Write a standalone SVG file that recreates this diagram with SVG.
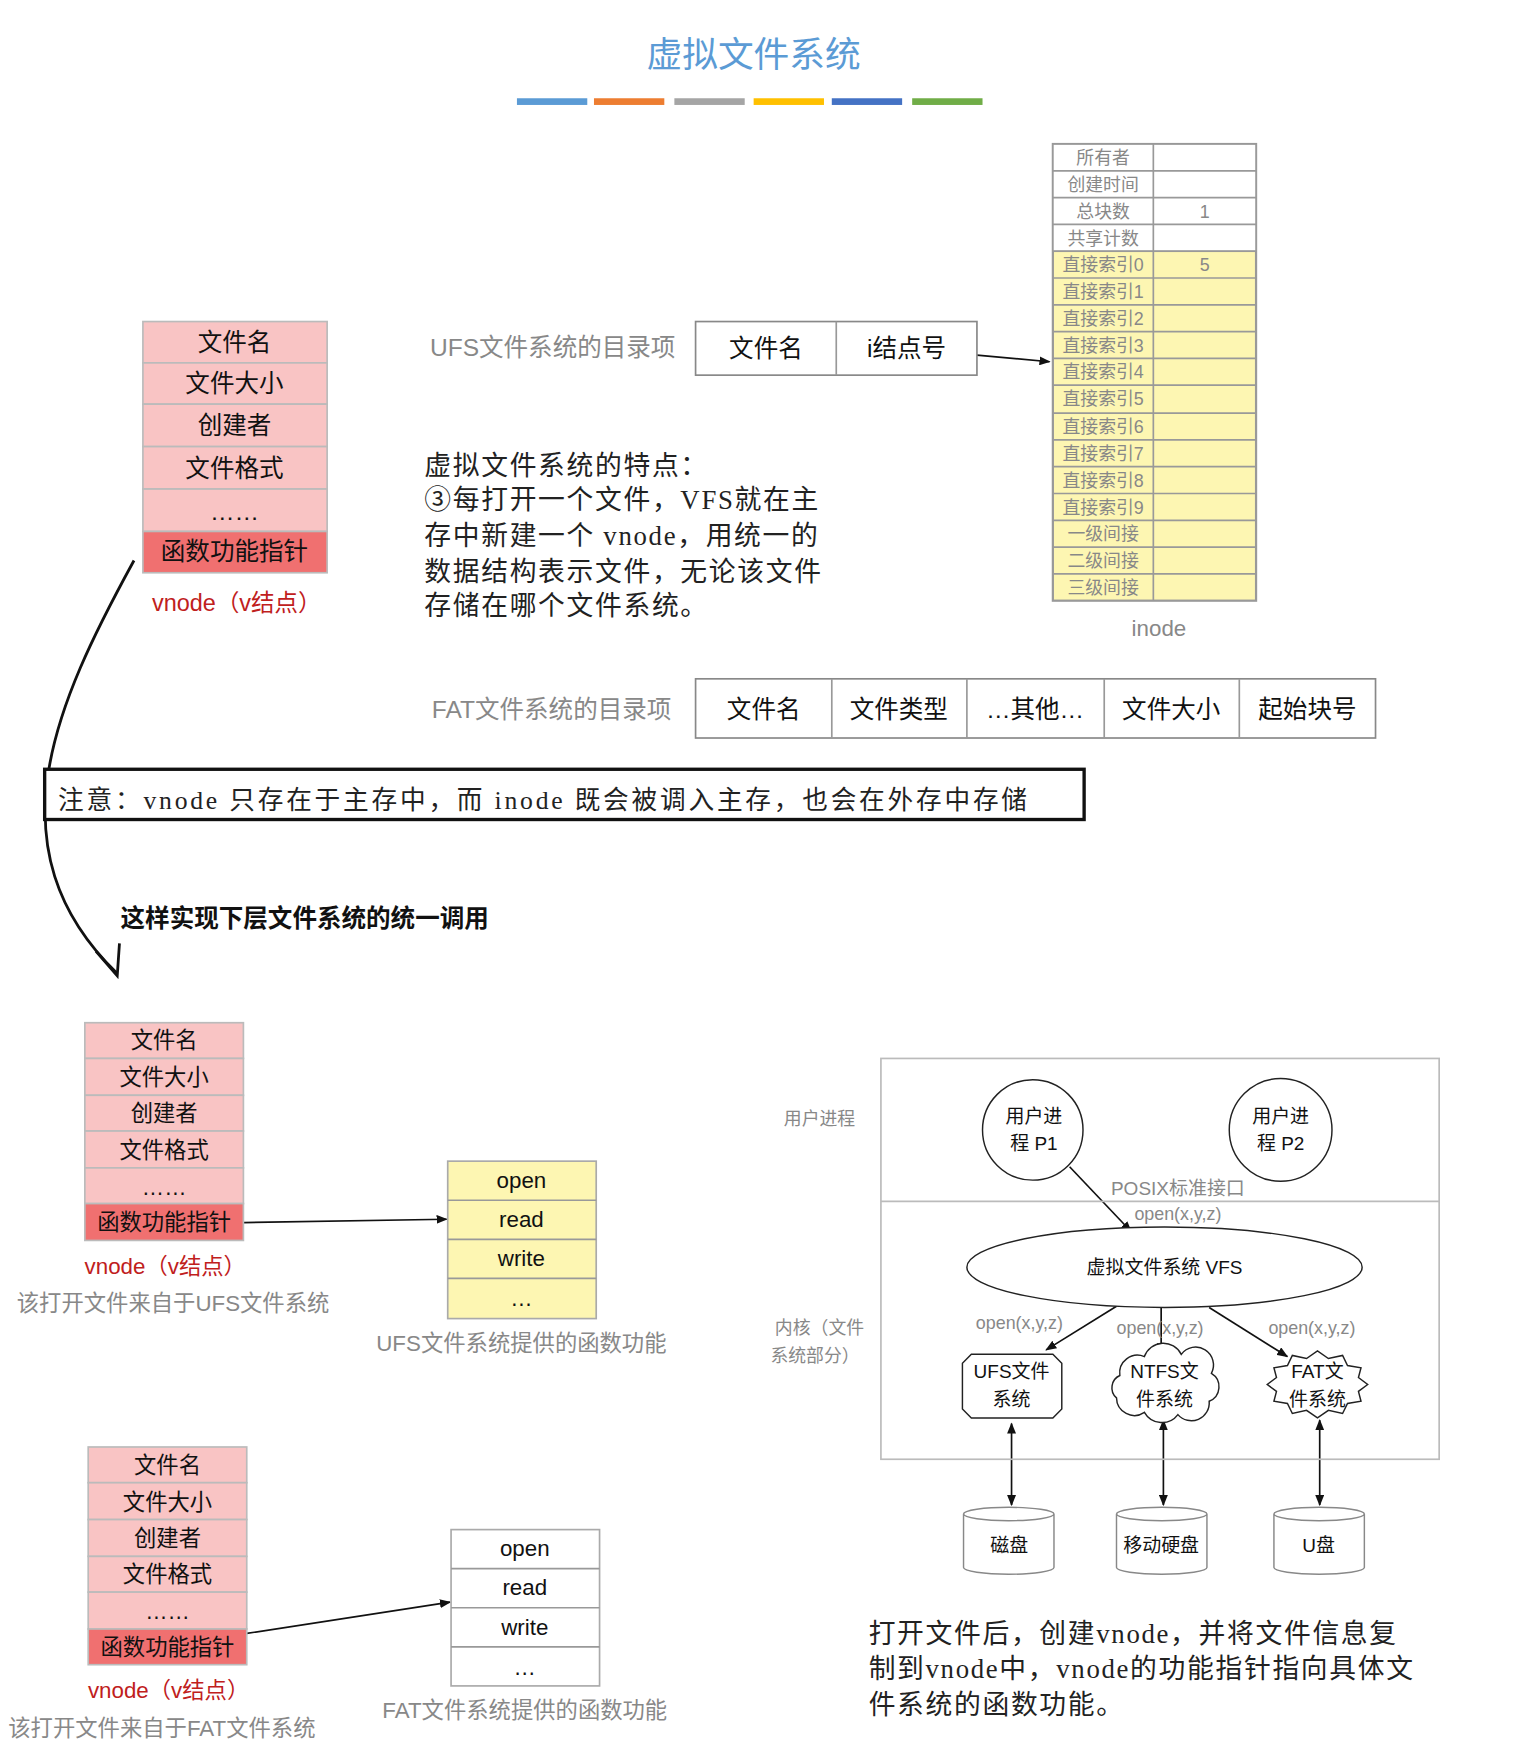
<svg xmlns="http://www.w3.org/2000/svg" width="1524" height="1745" viewBox="0 0 1524 1745">
<defs>
<style>
text{font-family:"Liberation Sans","Noto Sans CJK SC",sans-serif;}
.ser{font-family:"Liberation Serif","Noto Sans CJK SC",serif;font-size:24px;fill:#222;letter-spacing:1.5px;}
.cell{fill:#f9c4c4;stroke:#bbb;stroke-width:1.5;}
.cellr{fill:#f07070;stroke:#bbb;stroke-width:1.5;}
.ct{font-size:22px;fill:#111;text-anchor:middle;}
.ct2{font-size:20px;fill:#111;text-anchor:middle;}
.red{fill:#c0201c;text-anchor:middle;font-size:21px;}
.gray{fill:#888;font-size:20px;text-anchor:middle;}
.ib{stroke:#999;stroke-width:1.5;}
.it{font-size:16px;fill:#888;text-anchor:middle;}
.box{fill:#fff;stroke:#888;stroke-width:1.5;}
.line{stroke:#111;stroke-width:1.5;fill:none;}
.sm{font-size:17px;fill:#111;text-anchor:middle;}
.op{font-size:16px;fill:#888;text-anchor:middle;}
</style>
<marker id="ah" markerWidth="10" markerHeight="8" refX="9" refY="4" orient="auto" markerUnits="userSpaceOnUse"><path d="M0,0 L10,4 L0,8 Z" fill="#111"/></marker>
<marker id="as" markerWidth="10" markerHeight="8" refX="1" refY="4" orient="auto" markerUnits="userSpaceOnUse"><path d="M10,0 L0,4 L10,8 Z" fill="#111"/></marker>
</defs>
<rect width="1524" height="1745" fill="#fff"/>
<g transform="scale(1.1165)">
<g id="title">
<text x="675" y="60" font-size="32" fill="#5b9bd5" text-anchor="middle">虚拟文件系统</text>
<rect x="463" y="88" width="63" height="6" fill="#5b9bd5"/>
<rect x="532" y="88" width="63" height="6" fill="#ed7d31"/>
<rect x="604" y="88" width="63" height="6" fill="#a5a5a5"/>
<rect x="675" y="88" width="63" height="6" fill="#ffc000"/>
<rect x="745" y="88" width="63" height="6" fill="#4472c4"/>
<rect x="817" y="88" width="63" height="6" fill="#70ad47"/>
</g>
<g id="connectors">
<line class="line" x1="875" y1="318" x2="940" y2="324" marker-end="url(#ah)"/>
<path d="M120,502 C50,630 -10,760 105,872" stroke="#111" stroke-width="2.5" fill="none"/>
<path d="M86,852 L105,874 L107,845" stroke="#111" stroke-width="2.5" fill="none"/>
<line class="line" x1="218" y1="1095" x2="400" y2="1092" marker-end="url(#ah)"/>
<line class="line" x1="221" y1="1463" x2="403" y2="1435" marker-end="url(#ah)"/>
<line class="line" x1="958" y1="1045" x2="1013" y2="1103" marker-end="url(#ah)"/>
<line class="line" x1="1000" y1="1170" x2="937" y2="1209" marker-end="url(#ah)"/>
<line class="line" x1="1040" y1="1171" x2="1040" y2="1212" marker-end="url(#ah)"/>
<line class="line" x1="1083" y1="1171" x2="1153" y2="1215" marker-end="url(#ah)"/>
<line class="line" x1="906" y1="1275" x2="906" y2="1348" marker-start="url(#as)" marker-end="url(#ah)"/>
<line class="line" x1="1042" y1="1272" x2="1042" y2="1348" marker-start="url(#as)" marker-end="url(#ah)"/>
<line class="line" x1="1182" y1="1272" x2="1182" y2="1348" marker-start="url(#as)" marker-end="url(#ah)"/>
</g>
<g id="vnode1">
<rect class="cell" x="128" y="288" width="165" height="37"/><text class="ct" x="210" y="314">文件名</text>
<rect class="cell" x="128" y="325" width="165" height="37"/><text class="ct" x="210" y="351">文件大小</text>
<rect class="cell" x="128" y="362" width="165" height="38"/><text class="ct" x="210" y="389">创建者</text>
<rect class="cell" x="128" y="400" width="165" height="38"/><text class="ct" x="210" y="427">文件格式</text>
<rect class="cell" x="128" y="438" width="165" height="38"/><text class="ct" x="210" y="466">……</text>
<rect class="cellr" x="128" y="476" width="165" height="37"/><text class="ct" x="210" y="502">函数功能指针</text>
<text class="red" x="212" y="547">vnode（v结点）</text>
</g>
<g id="ufsdir">
<text class="gray" x="495" y="319" style="font-size:22px">UFS文件系统的目录项</text>
<rect class="box" x="623" y="288" width="252" height="48"/>
<line class="ib" x1="749" y1="288" x2="749" y2="336"/>
<text class="ct" x="686" y="320">文件名</text><text class="ct" x="812" y="320">i结点号</text>
</g>
<g id="inode">
<rect x="943" y="129" width="182" height="409" fill="#fdf6b2" stroke="#999" stroke-width="2"/>
<rect x="943" y="129" width="182" height="96" fill="#fff" stroke="#999" stroke-width="1.5"/>
<line class="ib" x1="1033" y1="129" x2="1033" y2="538"/>
<g class="ib">
<line x1="943" y1="153" x2="1125" y2="153"/><line x1="943" y1="177" x2="1125" y2="177"/><line x1="943" y1="201" x2="1125" y2="201"/>
<line x1="943" y1="225" x2="1125" y2="225"/><line x1="943" y1="249" x2="1125" y2="249"/><line x1="943" y1="273" x2="1125" y2="273"/>
<line x1="943" y1="297" x2="1125" y2="297"/><line x1="943" y1="321" x2="1125" y2="321"/><line x1="943" y1="345" x2="1125" y2="345"/>
<line x1="943" y1="370" x2="1125" y2="370"/><line x1="943" y1="394" x2="1125" y2="394"/><line x1="943" y1="418" x2="1125" y2="418"/>
<line x1="943" y1="442" x2="1125" y2="442"/><line x1="943" y1="466" x2="1125" y2="466"/><line x1="943" y1="490" x2="1125" y2="490"/>
<line x1="943" y1="514" x2="1125" y2="514"/>
</g>
<text class="it" x="988" y="147">所有者</text><text class="it" x="988" y="171">创建时间</text><text class="it" x="988" y="195">总块数</text><text class="it" x="1079" y="195">1</text>
<text class="it" x="988" y="219">共享计数</text><text class="it" x="988" y="243">直接索引0</text><text class="it" x="1079" y="243">5</text>
<text class="it" x="988" y="267">直接索引1</text><text class="it" x="988" y="291">直接索引2</text><text class="it" x="988" y="315">直接索引3</text>
<text class="it" x="988" y="339">直接索引4</text><text class="it" x="988" y="363">直接索引5</text><text class="it" x="988" y="388">直接索引6</text>
<text class="it" x="988" y="412">直接索引7</text><text class="it" x="988" y="436">直接索引8</text><text class="it" x="988" y="460">直接索引9</text>
<text class="it" x="988" y="484">一级间接</text><text class="it" x="988" y="508">二级间接</text><text class="it" x="988" y="532">三级间接</text>
<text class="gray" x="1038" y="570">inode</text>
</g>
<g id="features">
<text class="ser" x="380" y="425">虚拟文件系统的特点：</text>
<text class="ser" x="380" y="456">③每打开一个文件，VFS就在主</text>
<text class="ser" x="380" y="488">存中新建一个 vnode，用统一的</text>
<text class="ser" x="380" y="520">数据结构表示文件，无论该文件</text>
<text class="ser" x="380" y="551">存储在哪个文件系统。</text>
</g>
<g id="fatdir">
<text class="gray" x="494" y="643" style="font-size:22px">FAT文件系统的目录项</text>
<rect class="box" x="623" y="608" width="609" height="53"/>
<line class="ib" x1="745" y1="608" x2="745" y2="661"/><line class="ib" x1="866" y1="608" x2="866" y2="661"/>
<line class="ib" x1="989" y1="608" x2="989" y2="661"/><line class="ib" x1="1110" y1="608" x2="1110" y2="661"/>
<text class="ct" x="684" y="643">文件名</text><text class="ct" x="805" y="643">文件类型</text><text class="ct" x="927" y="643">…其他…</text>
<text class="ct" x="1049" y="643">文件大小</text><text class="ct" x="1171" y="643">起始块号</text>
</g>
<g id="note">
<rect x="40" y="689" width="931" height="45" fill="#fff" stroke="#111" stroke-width="3"/>
<text class="ser" x="52" y="725" style="font-size:23px;letter-spacing:2.5px">注意：vnode 只存在于主存中，而 inode 既会被调入主存，也会在外存中存储</text>
</g>
<text x="108" y="830" font-size="22" font-weight="bold" fill="#111">这样实现下层文件系统的统一调用</text>
<g id="vnode2">
<rect class="cell" x="76" y="916" width="142" height="32"/><text class="ct2" x="147" y="939">文件名</text>
<rect class="cell" x="76" y="948" width="142" height="33"/><text class="ct2" x="147" y="972">文件大小</text>
<rect class="cell" x="76" y="981" width="142" height="32"/><text class="ct2" x="147" y="1004">创建者</text>
<rect class="cell" x="76" y="1013" width="142" height="33"/><text class="ct2" x="147" y="1037">文件格式</text>
<rect class="cell" x="76" y="1046" width="142" height="32"/><text class="ct2" x="147" y="1070">……</text>
<rect class="cellr" x="76" y="1078" width="142" height="33"/><text class="ct2" x="147" y="1102">函数功能指针</text>
<text class="red" x="148" y="1141" style="font-size:20px">vnode（v结点）</text>
<text class="gray" x="155" y="1174">该打开文件来自于UFS文件系统</text>
</g>
<g id="ufsfunc">
<rect x="401" y="1040" width="133" height="141" fill="#fdf6b2" stroke="#aaa" stroke-width="1.5"/>
<line class="ib" x1="401" y1="1075" x2="534" y2="1075"/><line class="ib" x1="401" y1="1110" x2="534" y2="1110"/><line class="ib" x1="401" y1="1145" x2="534" y2="1145"/>
<text class="ct2" x="467" y="1064">open</text><text class="ct2" x="467" y="1099">read</text>
<text class="ct2" x="467" y="1134">write</text><text class="ct2" x="467" y="1170">…</text>
<text class="gray" x="467" y="1210">UFS文件系统提供的函数功能</text>
</g>
<g id="vnode3">
<rect class="cell" x="79" y="1296" width="142" height="32"/><text class="ct2" x="150" y="1319">文件名</text>
<rect class="cell" x="79" y="1328" width="142" height="33"/><text class="ct2" x="150" y="1352">文件大小</text>
<rect class="cell" x="79" y="1361" width="142" height="33"/><text class="ct2" x="150" y="1385">创建者</text>
<rect class="cell" x="79" y="1394" width="142" height="32"/><text class="ct2" x="150" y="1417">文件格式</text>
<rect class="cell" x="79" y="1426" width="142" height="33"/><text class="ct2" x="150" y="1450">……</text>
<rect class="cellr" x="79" y="1459" width="142" height="32"/><text class="ct2" x="150" y="1482">函数功能指针</text>
<text class="red" x="151" y="1521" style="font-size:20px">vnode（v结点）</text>
<text class="gray" x="145" y="1555">该打开文件来自于FAT文件系统</text>
</g>
<g id="fatfunc">
<rect x="404" y="1370" width="133" height="140" fill="#fff" stroke="#aaa" stroke-width="1.5"/>
<line class="ib" x1="404" y1="1405" x2="537" y2="1405"/><line class="ib" x1="404" y1="1440" x2="537" y2="1440"/><line class="ib" x1="404" y1="1475" x2="537" y2="1475"/>
<text class="ct2" x="470" y="1394">open</text><text class="ct2" x="470" y="1429">read</text>
<text class="ct2" x="470" y="1464">write</text><text class="ct2" x="470" y="1500">…</text>
<text class="gray" x="470" y="1539">FAT文件系统提供的函数功能</text>
</g>
<g id="vfsframe">
<rect x="789" y="948" width="500" height="359" fill="none" stroke="#bbb" stroke-width="1.5"/>
<line x1="789" y1="1076" x2="1289" y2="1076" stroke="#bbb" stroke-width="1.5"/>
<text class="op" x="734" y="1008">用户进程</text>
<text class="op" x="734" y="1195">内核（文件</text>
<text class="op" x="730" y="1220">系统部分）</text>
<text class="op" x="1055" y="1070" style="font-size:17px">POSIX标准接口</text>
<text class="op" x="1055" y="1093">open(x,y,z)</text>
<text class="op" x="913" y="1190">open(x,y,z)</text>
<text class="op" x="1039" y="1195">open(x,y,z)</text>
<text class="op" x="1175" y="1195">open(x,y,z)</text>
</g>
<g id="p1"><circle cx="925" cy="1012" r="45" fill="#fff" stroke="#222" stroke-width="1.3"/><text class="sm" x="926" y="1006">用户进</text><text class="sm" x="926" y="1030">程 P1</text></g>
<g id="p2"><circle cx="1147" cy="1012" r="46" fill="#fff" stroke="#222" stroke-width="1.3"/><text class="sm" x="1147" y="1006">用户进</text><text class="sm" x="1147" y="1030">程 P2</text></g>
<g id="vfs"><ellipse cx="1043" cy="1135" rx="177" ry="36" fill="#fff" stroke="#222" stroke-width="1.3"/><text class="sm" x="1043" y="1141">虚拟文件系统 VFS</text></g>
<g id="ufs"><polygon points="870,1213 943,1213 951,1221 951,1262 943,1270 870,1270 862,1262 862,1221" fill="#fff" stroke="#222" stroke-width="1.3"/><text class="sm" x="906" y="1234">UFS文件</text><text class="sm" x="906" y="1259">系统</text></g>
<g id="ntfs"><path d="M1003,1232 A16,16 0 0 1 1025,1215 A18,18 0 0 1 1058,1213 A16,16 0 0 1 1085,1230 A14,14 0 0 1 1083,1255 A16,16 0 0 1 1055,1267 A18,18 0 0 1 1025,1265 A16,16 0 0 1 1000,1252 A12,12 0 0 1 1003,1232 Z" fill="#fff" stroke="#222" stroke-width="1.3"/><text class="sm" x="1043" y="1234">NTFS文</text><text class="sm" x="1043" y="1259">件系统</text></g>
<g id="fat"><polygon points="1225,1240 1216.7,1246.2 1219,1255 1206.9,1257 1202.5,1266 1189.8,1263.2 1180,1270 1170.2,1263.2 1157.5,1266 1153.1,1257 1141,1255 1143.3,1246.2 1135,1240 1143.3,1233.8 1141,1225 1153.1,1223 1157.5,1214 1170.2,1216.8 1180,1210 1189.8,1216.8 1202.5,1214 1206.9,1223 1219,1225 1216.7,1233.8" fill="#fff" stroke="#222" stroke-width="1.3"/><text class="sm" x="1180" y="1234">FAT文</text><text class="sm" x="1180" y="1259">件系统</text></g>
<g id="disk1"><path d="M863,1356 A40.5,6 0 0 1 944,1356 L944,1404 A40.5,6 0 0 1 863,1404 Z M863,1356 A40.5,6 0 0 0 944,1356" fill="#fff" stroke="#888" stroke-width="1.3"/><text class="sm" x="904" y="1390">磁盘</text></g>
<g id="disk2"><path d="M1000,1356 A40.5,6 0 0 1 1081,1356 L1081,1404 A40.5,6 0 0 1 1000,1404 Z M1000,1356 A40.5,6 0 0 0 1081,1356" fill="#fff" stroke="#888" stroke-width="1.3"/><text class="sm" x="1040" y="1390">移动硬盘</text></g>
<g id="disk3"><path d="M1141,1356 A40.5,6 0 0 1 1222,1356 L1222,1404 A40.5,6 0 0 1 1141,1404 Z M1141,1356 A40.5,6 0 0 0 1222,1356" fill="#fff" stroke="#888" stroke-width="1.3"/><text class="sm" x="1181" y="1390">U盘</text></g>
<g id="summary">
<text class="ser" x="778" y="1472">打开文件后，创建vnode，并将文件信息复</text>
<text class="ser" x="778" y="1503">制到vnode中，vnode的功能指针指向具体文</text>
<text class="ser" x="778" y="1535">件系统的函数功能。</text>
</g>
</g>
</svg>
